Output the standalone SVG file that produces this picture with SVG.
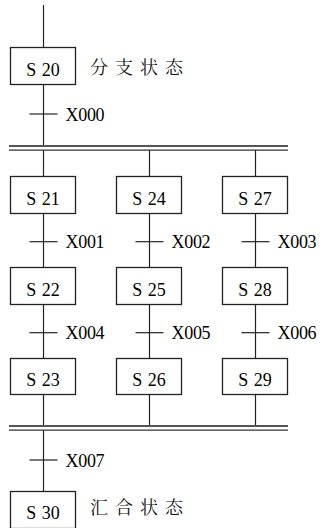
<svg xmlns="http://www.w3.org/2000/svg" width="320" height="528" viewBox="0 0 320 528">
<style>
.box{fill:#fff;stroke:#222;stroke-width:1.3}
.ln{stroke:#222;stroke-width:1.2;fill:none}
.tk{stroke:#222;stroke-width:1.2}
.bar1{stroke:#555;stroke-width:2}
.bar2{stroke:#333;stroke-width:1.2}
.lbl{font-family:'Times New Roman','Liberation Serif',Tinos,serif;font-size:18px;fill:#000;word-spacing:1px}
.tr{font-family:'Times New Roman','Liberation Serif',Tinos,serif;font-size:18px;fill:#000;letter-spacing:-0.3px}
.cn{font-family:'Noto Serif CJK SC','Noto Sans CJK SC',sans-serif;font-size:18px;fill:#111;letter-spacing:7px}
</style>
<rect width="320" height="528" fill="#fff"/>
<g id="connectors">
  <line class="ln" x1="43.5" y1="5" x2="43.5" y2="47.5"/>
  <line class="ln" x1="43.5" y1="84.5" x2="43.5" y2="146"/>
  <line class="bar1" x1="9" y1="146" x2="288" y2="146"/>
  <line class="bar2" x1="9" y1="150.2" x2="288" y2="150.2"/>
  <line class="ln" x1="43.5" y1="150" x2="43.5" y2="176.5"/>
  <line class="ln" x1="149.5" y1="150" x2="149.5" y2="176.5"/>
  <line class="ln" x1="255.5" y1="150" x2="255.5" y2="176.5"/>
  <line class="ln" x1="43.5" y1="213.5" x2="43.5" y2="267.5"/>
  <line class="ln" x1="149.5" y1="213.5" x2="149.5" y2="267.5"/>
  <line class="ln" x1="255.5" y1="213.5" x2="255.5" y2="267.5"/>
  <line class="ln" x1="43.5" y1="304.5" x2="43.5" y2="358.5"/>
  <line class="ln" x1="149.5" y1="304.5" x2="149.5" y2="358.5"/>
  <line class="ln" x1="255.5" y1="304.5" x2="255.5" y2="358.5"/>
  <line class="ln" x1="43.5" y1="394.5" x2="43.5" y2="426"/>
  <line class="ln" x1="149.5" y1="394.5" x2="149.5" y2="426"/>
  <line class="ln" x1="255.5" y1="394.5" x2="255.5" y2="426"/>
  <line class="bar1" x1="9" y1="426" x2="288" y2="426"/>
  <line class="bar2" x1="9" y1="430.2" x2="288" y2="430.2"/>
  <line class="ln" x1="43.5" y1="430" x2="43.5" y2="491.5"/>
  <line class="tk" x1="29.5" y1="114" x2="57.5" y2="114"/>
  <line class="tk" x1="29.5" y1="241.7" x2="57.5" y2="241.7"/>
  <line class="tk" x1="135.5" y1="241.7" x2="163.5" y2="241.7"/>
  <line class="tk" x1="241.5" y1="241.7" x2="269.5" y2="241.7"/>
  <line class="tk" x1="29.5" y1="332.7" x2="57.5" y2="332.7"/>
  <line class="tk" x1="135.5" y1="332.7" x2="163.5" y2="332.7"/>
  <line class="tk" x1="241.5" y1="332.7" x2="269.5" y2="332.7"/>
  <line class="tk" x1="29.5" y1="460" x2="57.5" y2="460"/>
  <text class="tr" x="65.5" y="120.5">X000</text>
  <text class="tr" x="65.5" y="248.2">X001</text>
  <text class="tr" x="171.5" y="248.2">X002</text>
  <text class="tr" x="277.5" y="248.2">X003</text>
  <text class="tr" x="65.5" y="339.2">X004</text>
  <text class="tr" x="171.5" y="339.2">X005</text>
  <text class="tr" x="277.5" y="339.2">X006</text>
  <text class="tr" x="65.5" y="466.5">X007</text>
</g>
<g id="S20"><rect class="box" x="10.5" y="47.5" width="65" height="37"/><text class="lbl" x="43" y="75.5" text-anchor="middle">S 20</text><text class="cn" x="90" y="73.5">分支状态</text></g>
<g id="S21"><rect class="box" x="10.5" y="176.5" width="65" height="37"/><text class="lbl" x="43" y="204.5" text-anchor="middle">S 21</text></g>
<g id="S24"><rect class="box" x="116.5" y="176.5" width="65" height="37"/><text class="lbl" x="149" y="204.5" text-anchor="middle">S 24</text></g>
<g id="S27"><rect class="box" x="222.5" y="176.5" width="65" height="37"/><text class="lbl" x="255" y="204.5" text-anchor="middle">S 27</text></g>
<g id="S22"><rect class="box" x="10.5" y="267.5" width="65" height="37"/><text class="lbl" x="43" y="295.5" text-anchor="middle">S 22</text></g>
<g id="S25"><rect class="box" x="116.5" y="267.5" width="65" height="37"/><text class="lbl" x="149" y="295.5" text-anchor="middle">S 25</text></g>
<g id="S28"><rect class="box" x="222.5" y="267.5" width="65" height="37"/><text class="lbl" x="255" y="295.5" text-anchor="middle">S 28</text></g>
<g id="S23"><rect class="box" x="10.5" y="358.5" width="65" height="36"/><text class="lbl" x="43" y="385.5" text-anchor="middle">S 23</text></g>
<g id="S26"><rect class="box" x="116.5" y="358.5" width="65" height="36"/><text class="lbl" x="149" y="385.5" text-anchor="middle">S 26</text></g>
<g id="S29"><rect class="box" x="222.5" y="358.5" width="65" height="36"/><text class="lbl" x="255" y="385.5" text-anchor="middle">S 29</text></g>
<g id="S30"><rect class="box" x="10.5" y="491.5" width="65" height="37"/><text class="lbl" x="43" y="518.5" text-anchor="middle">S 30</text><text class="cn" x="90" y="513.5">汇合状态</text></g>
</svg>
